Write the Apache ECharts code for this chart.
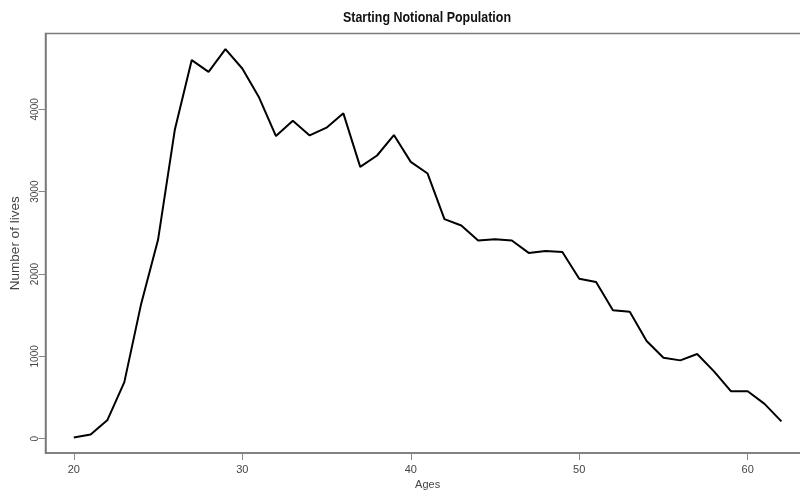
<!DOCTYPE html>
<html>
<head>
<meta charset="utf-8">
<script src="https://cdn.jsdelivr.net/npm/echarts@6/dist/echarts.min.js"></script>
<style>
  html, body { margin: 0; padding: 0; background: #fff; }
  #chart { width: 800px; height: 491px; }
</style>
</head>
<body>
<div id="chart"></div>
<script>
// Starting notional population by age
const ages = [20, 21, 22, 23, 24, 25, 26, 27, 28, 29, 30, 31, 32, 33, 34, 35, 36, 37, 38, 39, 40,
              41, 42, 43, 44, 45, 46, 47, 48, 49, 50, 51, 52, 53, 54, 55, 56, 57, 58, 59, 60, 61, 62];
const lives = [15, 50, 228, 687, 1640, 2415, 3756, 4598, 4455, 4732, 4496, 4143, 3675, 3860, 3683,
               3777, 3951, 3301, 3439, 3687, 3362, 3220, 2667, 2589, 2407, 2423, 2407, 2256, 2280,
               2268, 1943, 1902, 1561, 1541, 1187, 984, 951, 1028, 817, 577, 577, 423, 211];
const xTicks = [20, 30, 40, 50, 60];
const yTicks = [0, 1000, 2000, 3000, 4000];
const chartTitle = 'Starting Notional Population';

const sans = "'Liberation Sans', Arial, sans-serif";

// axis ranges padded by 4% on each side of the data
const xPad = (ages[ages.length - 1] - ages[0]) * 0.04;
const yMin = Math.min(...lives), yMax = Math.max(...lives);
const yPad = (yMax - yMin) * 0.04;

const chart = echarts.init(document.getElementById('chart'), null, { renderer: 'canvas' });
chart.setOption({
  animation: false,
  backgroundColor: '#ffffff',
  // condensed bold title, centred over the plot box
  graphic: [{
    type: 'text',
    x: 427, y: 18,
    scaleX: 0.83,
    silent: true,
    style: {
      text: chartTitle,
      textAlign: 'center', textVerticalAlign: 'middle',
      font: "bold 15px 'Liberation Sans', Arial, sans-serif",
      fill: '#111'
    }
  }],
  grid: {
    left: 45.5, right: -9.7, top: 33.5, bottom: 38,
    outerBoundsMode: 'none',
    containLabel: false,
    show: true, borderColor: '#7a7a7a', borderWidth: 1.5, backgroundColor: 'transparent'
  },
  xAxis: {
    type: 'value',
    min: ages[0] - xPad, max: ages[ages.length - 1] + xPad,
    name: 'Ages', nameLocation: 'middle', nameGap: 18,
    nameTextStyle: { fontFamily: sans, fontSize: 11, color: '#444' },
    axisLine: { show: true, onZero: false, lineStyle: { color: '#7a7a7a', width: 1.5 } },
    axisTick: { show: true, length: 7, customValues: xTicks, lineStyle: { color: '#888', width: 1 } },
    axisLabel: { customValues: xTicks, margin: 11, fontFamily: sans, fontSize: 11, color: '#444' },
    splitLine: { show: false }
  },
  yAxis: {
    type: 'value',
    min: yMin - yPad, max: yMax + yPad,
    name: 'Number of lives', nameLocation: 'middle', nameGap: 19,
    nameTextStyle: { fontFamily: sans, fontSize: 13.5, color: '#444' },
    axisLine: { show: true, lineStyle: { color: '#7a7a7a', width: 1.5 } },
    axisTick: { show: true, length: 7, customValues: yTicks, lineStyle: { color: '#888', width: 1 } },
    axisLabel: {
      customValues: yTicks, rotate: 90, margin: 5,
      fontFamily: sans, fontSize: 10, color: '#444',
      formatter: v => String(v)
    },
    splitLine: { show: false }
  },
  series: [{
    type: 'line',
    data: ages.map((a, i) => [a, lives[i]]),
    showSymbol: false,
    lineStyle: { color: '#000', width: 2 },
    silent: true
  }]
});
</script>
</body>
</html>
